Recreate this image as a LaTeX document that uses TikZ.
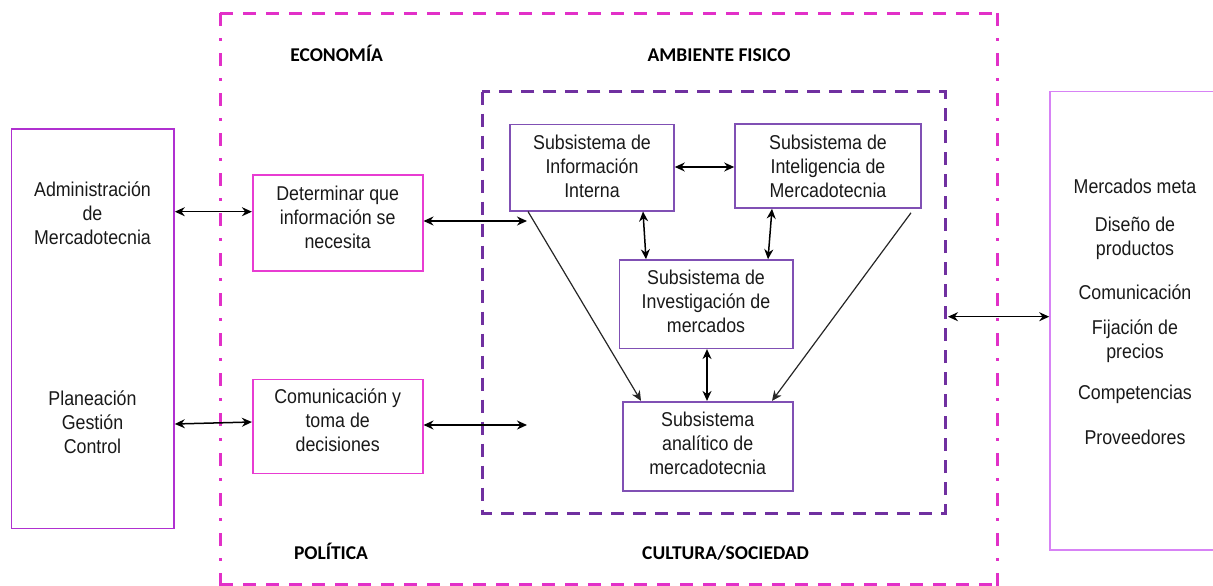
\documentclass[tikz,border=0pt]{standalone}
\usepackage{fontspec}
\newfontfamily\mf{Liberation Sans}[FakeStretch=0.89]
\newfontfamily\lf{Carlito}
\usetikzlibrary{arrows.meta}
\definecolor{outerc}{RGB}{226,48,200}
\definecolor{innerc}{RGB}{112,48,160}
\definecolor{leftc}{RGB}{176,48,208}
\definecolor{pinkc}{RGB}{232,60,210}
\definecolor{subc}{RGB}{128,80,180}
\definecolor{rightc}{RGB}{215,130,245}
\definecolor{txtc}{RGB}{25,25,25}
\begin{document}
\begin{tikzpicture}[x=1pt,y=-1pt,
  txt/.style={font=\mf\fontsize{20}{24}\selectfont, align=center, inner sep=0pt, text=txtc},
  lbl/.style={font=\lf\bfseries\fontsize{19.5}{24}\selectfont, inner sep=0pt, text height=12.6pt, text depth=0pt},
  box/.style={draw, line width=1.6pt, inner sep=0pt},
  tipa/.tip={Stealth[length=10pt,width=9pt]},
  dbl/.style={tipa-tipa, line width=1.5pt, black},
  one/.style={-tipa, line width=1.2pt, black!85},
]
\useasboundingbox (0,0) rectangle (1213,586);
\clip (0,0) rectangle (1213,586);

% environment frames
\draw[outerc, line width=3pt, dash pattern=on 13pt off 10pt] (220,13.3) -- (997,13.3);
\draw[outerc, line width=3pt, dash pattern=on 13pt off 10pt] (220,584) -- (997,584);
\draw[outerc, line width=3pt, dash pattern=on 13pt off 12pt on 3pt off 12pt] (220,13.3) -- (220,586);
\draw[outerc, line width=3pt, dash pattern=on 13pt off 12pt on 3pt off 12pt] (997,13.3) -- (997,586);
\draw[innerc, line width=3pt, dash pattern=on 13pt off 9pt] (482.3,91.7) rectangle (945,513);

% environment labels
\node[lbl] (eco) at (336.7,55) {ECONOMÍA};
\node[lbl] (amb) at (719,55) {AMBIENTE FISICO};
\node[lbl] (pol) at (331,553) {POLÍTICA};
\node[lbl] (cul) at (725.6,553) {CULTURA/SOCIEDAD};

% left box
\node[box, draw=leftc, minimum width=162.5pt, minimum height=399.5pt] (lb) at (92.75,328.75) {};
\node[txt] (lbt1) at (92.5,213.7) {Administración\\de\\Mercadotecnia};
\node[txt] (lbt2) at (92.5,422.7) {Planeación\\Gestión\\Control};

% middle boxes
\node[box, draw=pinkc, minimum width=170pt, minimum height=95.7pt] (det) at (337.7,222.85) {};
\node[txt] (dett) at (337.7,217.7) {Determinar que\\información se\\necesita};
\node[box, draw=pinkc, minimum width=170pt, minimum height=94pt] (com) at (337.7,426.3) {};
\node[txt] (comt) at (337.7,420.5) {Comunicación y\\toma de\\decisiones};

% subsystems
\node[box, draw=subc, minimum width=164pt, minimum height=86.4pt] (b1) at (592,167.5) {};
\node[txt] (b1t) at (592,166) {Subsistema de\\Información\\Interna};
\node[box, draw=subc, minimum width=186pt, minimum height=84pt] (b2) at (828,166) {};
\node[txt] (b2t) at (828,166) {Subsistema de\\Inteligencia de\\Mercadotecnia};
\node[box, draw=subc, minimum width=173.4pt, minimum height=88.3pt] (b3) at (706,304.15) {};
\node[txt] (b3t) at (706,301) {Subsistema de\\Investigación de\\mercados};
\node[box, draw=subc, minimum width=170pt, minimum height=89pt] (b4) at (707.7,446.2) {};
\node[txt] (b4t) at (707.7,443) {Subsistema\\analítico de\\mercadotecnia};

% right box
\node[box, draw=rightc, minimum width=200pt, minimum height=458.5pt] (rb) at (1150,320.75) {};
\node[txt] (r1) at (1135,186) {Mercados meta};
\node[txt] (r2) at (1135,238) {Diseño de\\productos};
\node[txt] (r3) at (1135,292) {Comunicación};
\node[txt] (r4) at (1135,341) {Fijación de\\precios};
\node[txt] (r5) at (1135,394) {Competencias};
\node[txt] (r6) at (1135,437) {Proveedores};

% free ends
\coordinate (c1) at (527,221);
\coordinate (c2) at (527,425);
\coordinate (c3) at (948,316.7);
\coordinate (y1) at (0,211.7);
\coordinate (y2) at (0,424);
\coordinate (y2b) at (0,422);

% connectors
\draw[dbl] (lb.east |- y1) -- (det.west |- y1);
\draw[dbl] (lb.east |- y2) -- (com.west |- y2b);
\draw[dbl] (det.east |- c1) -- (c1);
\draw[dbl] (com.east |- c2) -- (c2);
\draw[dbl] (b1.east |- 0,167) -- (b2.west |- 0,167);
\draw[dbl] (b1.south -| 643,0) -- (b3.north -| 646,0);
\draw[dbl] (b2.south -| 772,0) -- (b3.north -| 768,0);
\draw[dbl] (b3.south -| 707,0) -- (b4.north -| 707,0);
\draw[one] (b1.south -| 528,0) -- (b4.north -| 641,0);
\draw[one] ([yshift=-4pt]b2.south -| 911,0) -- (b4.north -| 772,0);
\draw[dbl] (c3) -- (rb.west |- c3);
\end{tikzpicture}
\end{document}
